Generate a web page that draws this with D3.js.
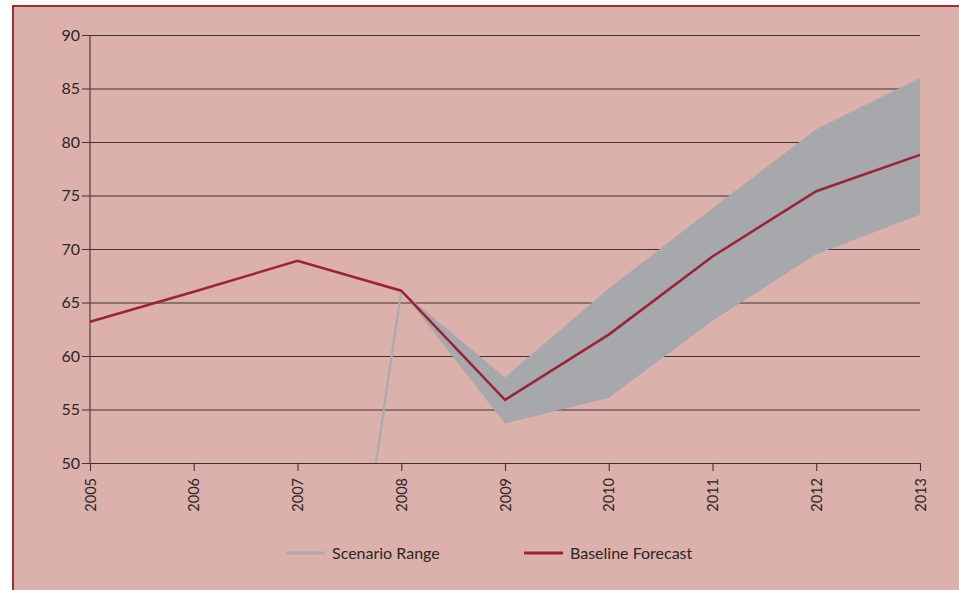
<!DOCTYPE html>
<html>
<head>
<meta charset="utf-8">
<script src="https://cdn.jsdelivr.net/npm/d3@7"></script>
<style>
  body { margin: 0; background: #fff; }
  svg { display: block; }
  .tick text { font-family: Lato, 'Open Sans', sans-serif; fill: #2b2627; }
  .legend text { font-family: Lato, 'Open Sans', sans-serif; font-size: 16px; fill: #2b2627; }
</style>
</head>
<body>
<div id="chart"></div>
<script>
const years = [2005, 2006, 2007, 2008, 2009, 2010, 2011, 2012, 2013];
const baseline = [63.2, 66.0, 68.9, 66.1, 55.9, 62.0, 69.3, 75.4, 78.8];
// scenario range, starts in 2008 (lower bound reads 0 in 2007)
const rangeYears = [2008, 2009, 2010, 2011, 2012, 2013];
const rangeHigh = [66.1, 58.0, 66.3, 73.8, 81.2, 86.0];
const rangeLow = [66.1, 53.7, 56.1, 63.3, 69.5, 73.2];
const scenarioYears = [2007, 2008];
const scenarioLine = [0, 66.1];
const yTicks = [50, 55, 60, 65, 70, 75, 80, 85, 90];

const width = 959;
const height = 590;
const m = { left: 90, right: 39, top: 35, bottom: 127 };
const innerW = width - m.left - m.right;
const innerH = height - m.top - m.bottom;

const svg = d3.select('#chart')
  .append('svg')
    .attr('width', width)
    .attr('height', height);

// panel + border (runs off the right and bottom edges)
svg.append('rect')
  .attr('x', 13)
  .attr('y', 6)
  .attr('width', width + 10)
  .attr('height', height + 10)
  .attr('fill', '#dcb0ab')
  .attr('stroke', '#a32c3b')
  .attr('stroke-width', 2);

const g = svg.append('g')
  .attr('transform', `translate(${m.left},${m.top})`);

const x = d3.scaleLinear()
  .domain([2005, 2013])
  .range([0, innerW]);
const y = d3.scaleLinear()
  .domain([50, 90])
  .range([innerH, 0]);

g.append('clipPath')
  .attr('id', 'plot-clip')
  .append('rect')
    .attr('width', innerW)
    .attr('height', innerH);

// y axis with full-width gridlines
const yAxis = g.append('g')
  .call(d3.axisLeft(y)
    .tickValues(yTicks)
    .tickSize(-innerW - 8)
    .tickPadding(3));
yAxis.select('.domain').remove();
yAxis.selectAll('.tick line')
  .attr('x1', -8)
  .attr('x2', innerW)
  .attr('stroke', '#3d3434')
  .attr('stroke-width', 1.1);
yAxis.selectAll('.tick text')
  .attr('x', -10)
  .style('font-size', '16px');

// vertical axis line
g.append('line')
  .attr('x1', 0)
  .attr('x2', 0)
  .attr('y1', 0)
  .attr('y2', innerH)
  .attr('stroke', '#3d3434')
  .attr('stroke-width', 1.1);

// x axis
const xAxis = g.append('g')
  .attr('transform', `translate(0,${innerH})`)
  .call(d3.axisBottom(x)
    .tickValues(years)
    .tickFormat(d3.format('d'))
    .tickSize(8)
    .tickSizeOuter(0));
xAxis.select('.domain')
  .attr('stroke', '#3d3434')
  .attr('stroke-width', 1.1);
xAxis.selectAll('.tick line')
  .attr('stroke', '#3d3434')
  .attr('stroke-width', 1.1);
xAxis.selectAll('.tick text')
  .attr('transform', 'rotate(-90)')
  .attr('x', -15)
  .attr('y', 0)
  .attr('dy', '0.35em')
  .attr('text-anchor', 'end')
  .style('font-size', '14.5px');

const plot = g.append('g')
  .attr('clip-path', 'url(#plot-clip)');

const range = rangeYears.map((d, i) => ({ year: d, lo: rangeLow[i], hi: rangeHigh[i] }));

plot.append('path')
  .datum(range)
  .attr('fill', '#a7a8ab')
  .attr('d', d3.area()
    .x(d => x(d.year))
    .y0(d => y(d.lo))
    .y1(d => y(d.hi)));

plot.append('path')
  .datum(scenarioYears.map((d, i) => ({ year: d, v: scenarioLine[i] })))
  .attr('fill', 'none')
  .attr('stroke', '#a9abae')
  .attr('stroke-width', 2.2)
  .attr('d', d3.line()
    .x(d => x(d.year))
    .y(d => y(d.v)));

g.append('path')
  .datum(years.map((d, i) => ({ year: d, v: baseline[i] })))
  .attr('fill', 'none')
  .attr('stroke', '#9c2336')
  .attr('stroke-width', 2.5)
  .attr('d', d3.line()
    .x(d => x(d.year))
    .y(d => y(d.v)));

// legend
const legendItems = [
  { label: 'Scenario Range', color: '#a9abae', x: 286 },
  { label: 'Baseline Forecast', color: '#9c2336', x: 524 },
];
const legend = svg.append('g')
  .attr('class', 'legend')
  .selectAll('g')
  .data(legendItems)
  .join('g')
    .attr('transform', d => `translate(${d.x},553)`);
legend.append('line')
  .attr('x1', 0)
  .attr('x2', 39)
  .attr('stroke', d => d.color)
  .attr('stroke-width', 3);
legend.append('text')
  .attr('x', 46)
  .attr('dy', '0.35em')
  .text(d => d.label);
</script>
</body>
</html>
